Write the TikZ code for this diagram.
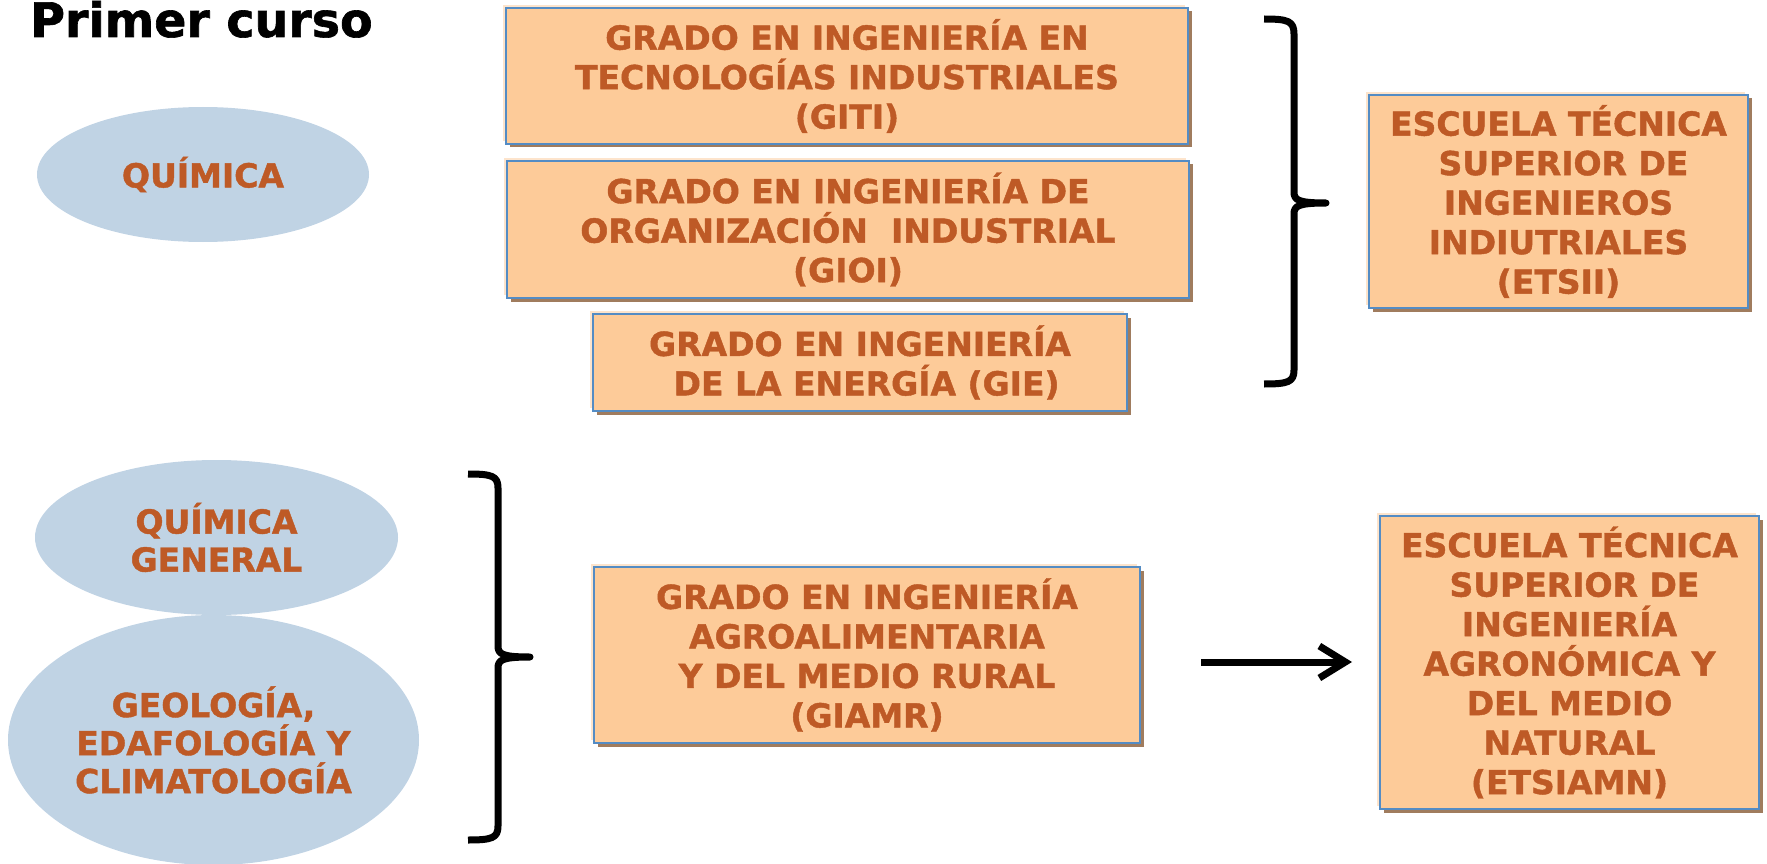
\documentclass[tikz,border=0pt]{standalone}
\usepackage{fontspec}
\setmainfont{DejaVu Sans}[BoldFeatures={FakeBold=1.3}]
\usetikzlibrary{arrows.meta,shapes.geometric}
\definecolor{peach}{RGB}{253,203,153}
\definecolor{peachhalo}{RGB}{253,228,204}
\definecolor{boxblue}{RGB}{84,140,196}
\definecolor{shadowcol}{RGB}{160,124,94}
\definecolor{txt}{RGB}{190,90,38}
\definecolor{ellfill}{RGB}{192,211,228}
\tikzset{
  gbox/.style={draw=boxblue, line width=1.5pt, fill=peach, text=txt,
    font=\bfseries\fontsize{33}{39.5}\selectfont, align=center, inner sep=0pt,
    preaction={fill=peachhalo, transform canvas={xshift=-3pt,yshift=3pt}},
    preaction={fill=shadowcol, transform canvas={xshift=3.5pt,yshift=-3.5pt}}},
  subj/.style={ellipse, fill=ellfill, text=txt, inner sep=0pt,
    font=\bfseries\fontsize{33}{38}\selectfont, align=center},
  bracestyle/.style={line width=7pt, line join=round, black},
  conn/.style={line width=7pt, -{Straight Barb[length=26pt,width=32pt,line width=7pt]}}
}
\begin{document}
\begin{tikzpicture}[x=1pt,y=-1pt]
\useasboundingbox (0,0) rectangle (1767,864);
% title
\node[anchor=base west, inner sep=0pt, font=\bfseries\fontsize{47.5}{50}\selectfont] (title) at (30,37) {Primer curso};
% ellipses
\node[subj, minimum width=332pt, minimum height=135pt] (quim) at (203,174.5) {QUÍMICA};
\node[subj, minimum width=363pt, minimum height=155pt] (quimg) at (216.5,537.5) {QUÍMICA\\GENERAL};
\node[subj, minimum width=411pt, minimum height=250pt] (geo) at (213.5,740) {GEOLOGÍA,\\EDAFOLOGÍA Y\\CLIMATOLOGÍA};
% boxes
\node[gbox, minimum width=682pt, minimum height=136pt] (giti) at (847,76) {GRADO EN INGENIERÍA EN\\TECNOLOGÍAS INDUSTRIALES\\(GITI)};
\node[gbox, minimum width=682pt, minimum height=137pt] (gioi) at (848,229.5) {GRADO EN INGENIERÍA DE\\ORGANIZACIÓN\hspace{0.7em}INDUSTRIAL\\(GIOI)};
\node[gbox, minimum width=534pt, minimum height=97pt] (gie) at (860,362.5) {GRADO EN INGENIERÍA\\\hspace{0.4em}DE LA ENERGÍA (GIE)};
\node[gbox, minimum width=379pt, minimum height=213pt] (etsii) at (1558.5,201.5) {ESCUELA TÉCNICA\\\hspace{0.3em}SUPERIOR DE\\INGENIEROS\\INDIUTRIALES\\(ETSII)};
\node[gbox, minimum width=546pt, minimum height=176pt] (giamr) at (867,655) {GRADO EN INGENIERÍA\\AGROALIMENTARIA\\Y DEL MEDIO RURAL\\(GIAMR)};
\node[gbox, minimum width=379pt, minimum height=293pt] (etsiamn) at (1569.5,662.5) {ESCUELA TÉCNICA\\\hspace{0.3em}SUPERIOR DE\\INGENIERÍA\\AGRONÓMICA Y\\DEL MEDIO\\NATURAL\\(ETSIAMN)};
% braces
\draw[bracestyle] (1264,19) .. controls (1288,19) and (1294,21) .. (1294,34)
  -- (1294,192) .. controls (1294,200) and (1298,203) .. (1326,203)
  .. controls (1298,203) and (1294,206) .. (1294,214)
  -- (1294,370) .. controls (1294,382) and (1288,384) .. (1264,384);
\draw[bracestyle] (468,474) .. controls (492,474) and (498,476) .. (498,488)
  -- (498,646) .. controls (498,654) and (502,657) .. (530,657)
  .. controls (502,657) and (498,660) .. (498,668)
  -- (498,826) .. controls (498,838) and (492,840) .. (468,840);
% arrow
\coordinate (a1) at (1201,662);
\coordinate (a2) at (1352,662);
\draw[conn] (a1) -- (a2);
\end{tikzpicture}
\end{document}
